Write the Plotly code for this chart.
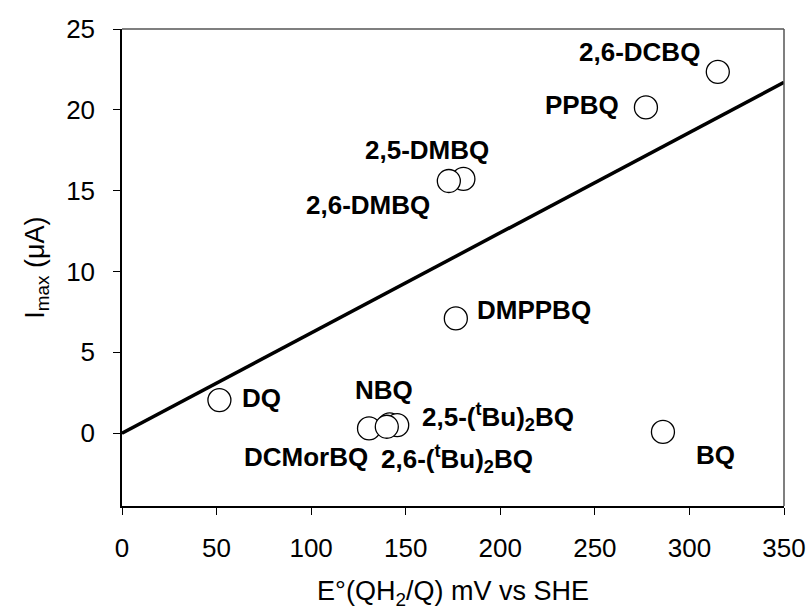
import plotly.graph_objects as go

# Data
compounds = ["2,6-DCBQ", "PPBQ", "2,5-DMBQ", "2,6-DMBQ", "DMPPBQ", "DQ",
             "NBQ", "2,5-(<sup>t</sup>Bu)<sub>2</sub>BQ", "DCMorBQ",
             "2,6-(<sup>t</sup>Bu)<sub>2</sub>BQ", "BQ"]
e_mv = [315, 277, 180.5, 172.8, 176.5, 51.5, 141.5, 145.5, 130.6, 140, 286]
i_max = [22.35, 20.15, 15.73, 15.6, 7.1, 2.05, 0.55, 0.5, 0.3, 0.4, 0.08]
# label offsets in pixels (dx, dy)
label_dx = [-78, -64, -36, -81, 78, 42, -6, 101, -63, 70, 53]
label_dy = [20, 2, 29, -24, 8, 2, 34, 8, -29, -32, -23]

fit_intercept = 0.0
fit_slope = 0.062
fit_x = [0, 350]
fit_y = [fit_intercept + fit_slope * x for x in fit_x]

x_ticks = [0, 50, 100, 150, 200, 250, 300, 350]
y_ticks = [0, 5, 10, 15, 20, 25]

FONT = "Liberation Sans, Arial, sans-serif"

fig = go.Figure()
fig.add_trace(go.Scatter(x=fit_x, y=fit_y, mode="lines",
                         line=dict(color="black", width=3.5),
                         showlegend=False, hoverinfo="skip"))
fig.add_trace(go.Scatter(x=e_mv, y=i_max, mode="markers",
                         marker=dict(size=23, color="white",
                                     line=dict(color="black", width=1.3)),
                         showlegend=False))

for name, x, y, dx, dy in zip(compounds, e_mv, i_max, label_dx, label_dy):
    fig.add_annotation(x=x, y=y, text="<b>" + name + "</b>", showarrow=False,
                       xshift=dx, yshift=dy,
                       font=dict(family=FONT, size=26, color="black"))

# top and right border (gray)
fig.add_shape(type="line", xref="paper", yref="paper", x0=0, x1=1, y0=1, y1=1,
              line=dict(color="#555555", width=1.5))
fig.add_shape(type="line", xref="paper", yref="paper", x0=1, x1=1, y0=0, y1=1,
              line=dict(color="#555555", width=1.5))

fig.update_layout(
    width=811, height=610,
    margin=dict(l=122, r=27, t=29, b=104),
    paper_bgcolor="white", plot_bgcolor="white",
    font=dict(family=FONT, size=26, color="black"),
    xaxis=dict(range=[0, 350], tickvals=x_ticks, showgrid=False,
               zeroline=False, showline=True, linecolor="black", linewidth=1.5,
               ticks="outside", ticklen=7, tickcolor="black", tickwidth=1.2,
               tickfont=dict(size=26), ticklabelstandoff=11, automargin=False,
               title=dict(text="E°(QH<sub>2</sub>/Q) mV vs SHE",
                          font=dict(size=27), standoff=24)),
    yaxis=dict(range=[-4.5, 25], tickvals=y_ticks, showgrid=False,
               zeroline=False, showline=True, linecolor="black", linewidth=1.5,
               ticks="outside", ticklen=7, tickcolor="black", tickwidth=1.2,
               tickfont=dict(size=26), ticklabelstandoff=13, automargin=False,
               title=dict(text="I<sub>max</sub> (μA)", font=dict(size=27),
                          standoff=14)),
)

fig.write_html(
    "out.html",
    config={"displayModeBar": False},
    post_script="document.body.style.margin='0px';"
                "document.body.style.overflow='hidden';",
)
